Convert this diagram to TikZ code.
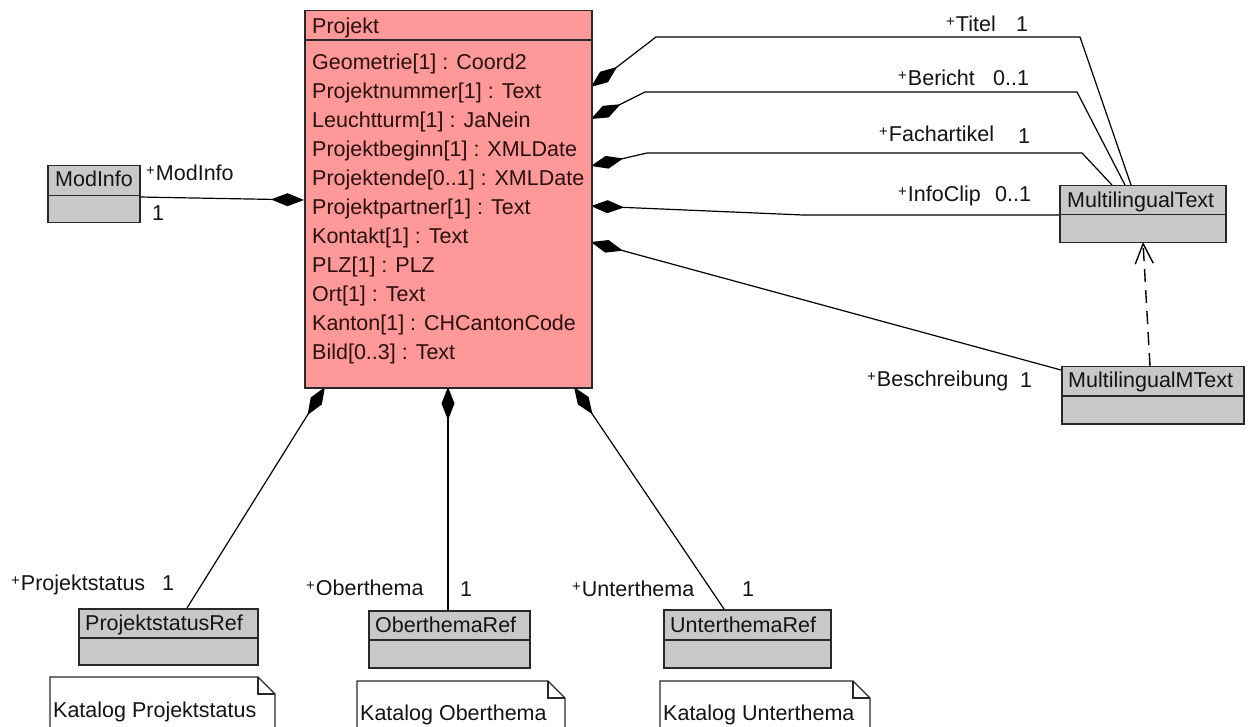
\documentclass[tikz,border=0pt]{standalone}
\usepackage{fontspec}
\setmainfont{Liberation Sans}
\usetikzlibrary{arrows.meta}
\definecolor{classpink}{RGB}{255,153,153}
\definecolor{classgray}{RGB}{200,200,200}
\definecolor{edge}{RGB}{40,40,40}
\definecolor{ink}{RGB}{20,20,20}
\definecolor{pinkink}{RGB}{45,15,15}
% small raised plus sign for public role names
\newcommand{\pl}{{\fontsize{15}{15}\selectfont\raisebox{5pt}{+}}\kern1pt}
\begin{document}
\begin{tikzpicture}[x=1pt,y=-1pt,
  lbl/.style={font=\fontsize{21.5}{24}\selectfont, text=ink, inner sep=0, anchor=base west},
  hdr/.style={draw=edge, fill=classgray, line width=1.5pt, anchor=north west, inner sep=0},
  bdy/.style={draw=edge, fill=classgray, line width=1.5pt, anchor=north west, inner sep=0},
  comp/.style={draw=black, line width=1.2pt, {Diamond[length=33pt,width=13pt]}-},
  dep/.style={draw=black, line width=1.4pt, dash pattern=on 13pt off 8pt, -{Straight Barb[length=20pt,width=18pt]}},
  notel/.style={draw=edge, line width=1.4pt, fill=white}
]
\fill[white] (0,0) rectangle (1248,727);
\useasboundingbox (0,0) rectangle (1248,727);

% connector end points
\coordinate (pTit) at (591,87);
\coordinate (pBer) at (591,119);
\coordinate (pFach) at (591,166);
\coordinate (pInfo) at (591,206);
\coordinate (pBes) at (591,242);
\coordinate (pMod) at (304,200);
\coordinate (pStat) at (325,387);
\coordinate (pOber) at (448,387);
\coordinate (pUnter) at (574,387);
\coordinate (mtTit) at (1131,185);
\coordinate (mtBer) at (1125,185);
\coordinate (mtFach) at (1112,185);
\coordinate (mtInfo) at (1059,215);
\coordinate (mtB) at (1143,242);
\coordinate (mmtBes) at (1061,370);
\coordinate (mmtT) at (1150,366);
\coordinate (modR) at (139,197);
\coordinate (statT) at (187,608);
\coordinate (oberT) at (448,610);
\coordinate (unterT) at (724,609);

% compositions
\draw[comp] (pTit) -- (656,37) -- (1080,37) -- (mtTit);
\draw[comp] (pBer) -- (645,92) -- (1077,92) -- (mtBer);
\draw[comp] (pFach) -- (647,153) -- (1082,153) -- (mtFach);
\draw[comp] (pInfo) -- (803,215) -- (mtInfo);
\draw[comp] (pBes) -- (mmtBes);
\draw[comp] (pMod) -- (modR);
\draw[comp] (pStat) -- (statT);
\draw[comp] (pOber) -- (oberT);
\draw[comp] (pUnter) -- (unterT);
% dependency
\draw[dep] (mmtT) -- (mtB);

% class Projekt
\node[draw=edge, fill=classpink, line width=1.5pt, anchor=north west,
      minimum width=287pt, minimum height=377pt, inner sep=0] (pj) at (304,10) {};
\draw[draw=edge, line width=1.5pt] ([yshift=-30pt]pj.north west) -- ([yshift=-30pt]pj.north east);
\node[lbl, text=pinkink] (pjn) at (312,34) {Projekt};
\foreach \t [count=\i from 0] in {Geometrie[1] : Coord2, Projektnummer[1] : Text,
    Leuchtturm[1] : JaNein, Projektbeginn[1] : XMLDate, Projektende[0..1] : XMLDate,
    Projektpartner[1] : Text, Kontakt[1] : Text, PLZ[1] : PLZ, Ort[1] : Text,
    Kanton[1] : CHCantonCode, Bild[0..3] : Text}
  \node[lbl, text=pinkink] (att\i) at (312,69.5+29*\i) {\t};

% class ModInfo
\node[hdr, minimum width=92pt, minimum height=30pt] (mi) at (47,165) {};
\node[bdy, minimum width=92pt, minimum height=27pt] (mib) at (47,195) {};
\node[lbl] (min) at (55,187) {ModInfo};

% class MultilingualText
\node[hdr, minimum width=166pt, minimum height=29pt] (mt) at (1059,185) {};
\node[bdy, minimum width=166pt, minimum height=28pt] (mtb) at (1059,214) {};
\node[lbl] (mtn) at (1067,208) {MultilingualText};

% class MultilingualMText
\node[hdr, minimum width=182pt, minimum height=29pt] (mmt) at (1061,366) {};
\node[bdy, minimum width=182pt, minimum height=28pt] (mmtb) at (1061,395) {};
\node[lbl] (mmtn) at (1068,388) {MultilingualMText};

% class ProjektstatusRef
\node[hdr, minimum width=179pt, minimum height=29pt] (ps) at (78,608) {};
\node[bdy, minimum width=179pt, minimum height=27pt] (psb) at (78,637) {};
\node[lbl] (psn) at (85,630) {ProjektstatusRef};

% class OberthemaRef
\node[hdr, minimum width=161pt, minimum height=29pt] (ot) at (368,610) {};
\node[bdy, minimum width=161pt, minimum height=28pt] (otb) at (368,639) {};
\node[lbl] (otn) at (375,632) {OberthemaRef};

% class UnterthemaRef
\node[hdr, minimum width=167pt, minimum height=30pt] (ut) at (663,609) {};
\node[bdy, minimum width=167pt, minimum height=28pt] (utb) at (663,639) {};
\node[lbl] (utn) at (670,632) {UnterthemaRef};

% notes
\draw[notel] (50,740) -- (50,677) -- (258,677) -- (275,694) -- (275,740);
\draw[notel, fill=none] (258,677) -- (258,694) -- (275,694);
\node[lbl] (n1) at (53,717) {Katalog Projektstatus};
\draw[notel] (357,740) -- (357,681) -- (548,681) -- (565,698) -- (565,740);
\draw[notel, fill=none] (548,681) -- (548,698) -- (565,698);
\node[lbl] (n2) at (360,720) {Katalog Oberthema};
\draw[notel] (660,740) -- (660,681) -- (853,681) -- (870,698) -- (870,740);
\draw[notel, fill=none] (853,681) -- (853,698) -- (870,698);
\node[lbl] (n3) at (663,720) {Katalog Unterthema};

% role names and multiplicities
\node[lbl] (rTit) at (946,32) {\pl Titel};
\node[lbl] (mTit) at (1016,32) {1};
\node[lbl] (rBer) at (898,86) {\pl Bericht};
\node[lbl] (mBer) at (993,86) {0..1};
\node[lbl] (rFach) at (879,142) {\pl Fachartikel};
\node[lbl] (mFach) at (1018,144) {1};
\node[lbl] (rInfo) at (898,202) {\pl InfoClip};
\node[lbl] (mInfo) at (995,202) {0..1};
\node[lbl] (rBes) at (867,386) {\pl Beschreibung};
\node[lbl] (mBes) at (1020,388) {1};
\node[lbl] (rMod) at (146,181) {\pl ModInfo};
\node[lbl] (mMod) at (152,221) {1};
\node[lbl] (rStat) at (11,590) {\pl Projektstatus};
\node[lbl] (mStat) at (162,590) {1};
\node[lbl] (rOber) at (306,595) {\pl Oberthema};
\node[lbl] (mOber) at (460,596) {1};
\node[lbl] (rUnter) at (572,596) {\pl Unterthema};
\node[lbl] (mUnter) at (742,596) {1};
\end{tikzpicture}
\end{document}
